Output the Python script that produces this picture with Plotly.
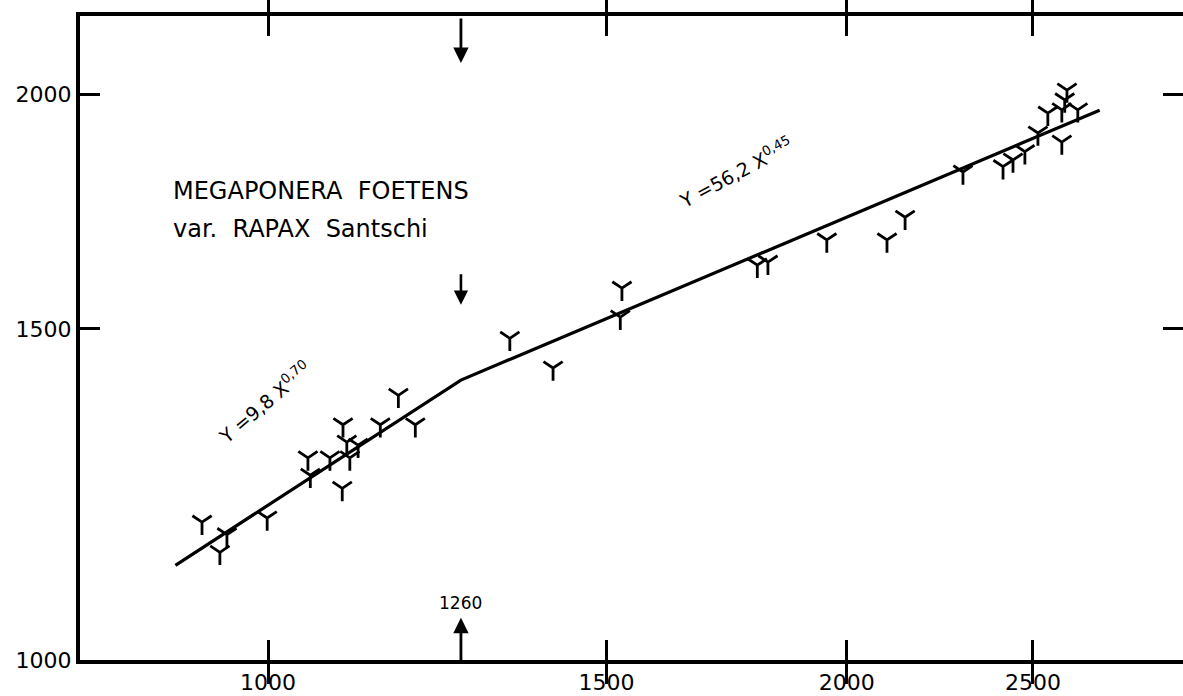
import math
import plotly.graph_objects as go

# measured worker points (x = body measure, y = second measure)
pts_x = [924, 952, 944, 999, 1049, 1052, 1077, 1094, 1099, 1103, 1114, 1093, 1144, 1169, 1193,
         1336, 1407, 1528, 1525, 1797, 1820, 1953, 2099, 2145, 2299, 2412, 2441, 2476, 2515,
         2545, 2588, 2597, 2604, 2638, 2588]
pts_y = [1184, 1166, 1141, 1190, 1281, 1254, 1281, 1334, 1306, 1281, 1301, 1234, 1334, 1383, 1334,
         1483, 1430, 1577, 1522, 1622, 1628, 1673, 1673, 1720, 1818, 1830, 1845, 1864, 1907,
         1954, 1962, 1986, 2010, 1962, 1886]

# fitted broken line
line_x = [895, 1260, 2708]
line_y = [1123, 1409, 1961]

x_ticks = [1000, 1500, 2000, 2500]
y_ticks = [1000, 1500, 2000]
break_x = 1260

x_range = [2.9022, 3.4760]
y_range = [3.0, 3.3426]

FONT = "DejaVu Sans"
L = math.log10

fig = go.Figure()
fig.add_trace(go.Scatter(x=line_x, y=line_y, mode="lines",
                         line=dict(color="black", width=3.2), showlegend=False, hoverinfo="skip"))
fig.add_trace(go.Scatter(x=pts_x, y=pts_y, mode="markers",
                         marker=dict(symbol="y-down", size=16, color="black",
                                     line=dict(color="black", width=2.8)),
                         showlegend=False))
# invisible trace for the right-hand tick axis
fig.add_trace(go.Scatter(x=[1000], y=[1500], yaxis="y2", mode="markers",
                         marker=dict(opacity=0), showlegend=False, hoverinfo="skip"))

annos = [
    dict(x=L(890), y=L(1776), text="MEGAPONERA  FOETENS", xanchor="left", yanchor="middle",
         font=dict(size=24, family=FONT, color="black"), showarrow=False),
    dict(x=L(890), y=L(1696), text="var.  RAPAX  Santschi", xanchor="left", yanchor="middle",
         font=dict(size=24, family=FONT, color="black"), showarrow=False),
    dict(x=L(996), y=L(1371), text="Y =9,8 X<sup>0,70</sup>", textangle=-40,
         font=dict(size=19, family=FONT, color="black"), showarrow=False),
    dict(x=L(1752), y=L(1818), text="Y =56,2 X<sup>0,45</sup>", textangle=-28,
         font=dict(size=19, family=FONT, color="black"), showarrow=False),
    # arrows marking the break point
    dict(x=L(break_x), y=L(2078), ax=0, ay=-46, text="", showarrow=True, arrowhead=2,
         arrowsize=1.1, arrowwidth=2.8, arrowcolor="black"),
    dict(x=L(break_x), y=L(1545), ax=0, ay=-32, text="", showarrow=True, arrowhead=2,
         arrowsize=1.1, arrowwidth=2.6, arrowcolor="black"),
    dict(x=L(break_x), y=L(1053), ax=0, ay=44, text="", showarrow=True, arrowhead=2,
         arrowsize=1.1, arrowwidth=2.8, arrowcolor="black"),
    dict(x=L(break_x), y=L(1057), text=str(break_x), yanchor="bottom", showarrow=False,
         font=dict(size=17, family=FONT, color="black")),
]
for a in annos:
    a.setdefault("xref", "x")
    a.setdefault("yref", "y")
    if a.get("showarrow"):
        a["axref"] = "pixel"
        a["ayref"] = "pixel"
    fig.add_annotation(**a)

fig.update_layout(
    width=1183, height=696,
    margin=dict(l=80, r=0, t=16, b=36),
    paper_bgcolor="white", plot_bgcolor="white",
    font=dict(family=FONT, color="black"),
    xaxis=dict(type="log", range=x_range, tickvals=x_ticks, ticktext=[str(v) for v in x_ticks],
               ticks="inside", ticklen=20, tickwidth=3, tickcolor="black",
               showline=True, linewidth=4, linecolor="black", mirror="allticks",
               showgrid=False, zeroline=False, tickfont=dict(size=22, family=FONT)),
    yaxis=dict(type="log", range=y_range, tickvals=y_ticks, ticktext=[str(v) for v in y_ticks],
               ticks="inside", ticklen=20, tickwidth=3, tickcolor="black",
               showline=True, linewidth=4, linecolor="black",
               showgrid=False, zeroline=False, tickfont=dict(size=22, family=FONT)),
    yaxis2=dict(type="log", range=y_range, tickvals=y_ticks, overlaying="y", side="right",
                anchor="x", ticks="inside", ticklen=20, tickwidth=3, tickcolor="black",
                showticklabels=False, showline=False, showgrid=False, zeroline=False),
)

fig.write_html("out.html",
               config={"displayModeBar": False},
               post_script="document.body.style.margin='0';document.body.style.overflow='hidden';")
